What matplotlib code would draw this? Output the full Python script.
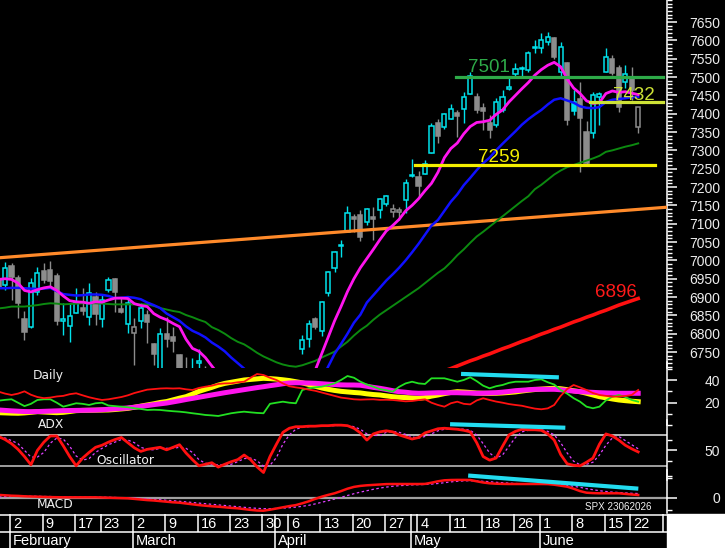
import matplotlib

matplotlib.use("Agg")
import matplotlib.pyplot as plt  # noqa: E402
from matplotlib.patches import Rectangle  # noqa: E402
from matplotlib.ticker import FixedLocator, FuncFormatter  # noqa: E402

plt.rcParams["font.family"] = ["Liberation Sans", "DejaVu Sans"]

W, H = 725, 548
RIGHT = 667              # pixel column of the price scale
X0, X1 = -2.79, 100.46   # visible window in trading days (0 = 2 Feb, 96 = 22 Jun)

# ---- data: one value per trading day, index -3 .. 96 ----
days = list(range(-3, 97))

opens = [6946, 6933, 6985, 6952, 6840, 6818, 6914, 6972, 6975, 6957,
         6836, 6821, 6856, 6870, 6846, 6900, 6840, 6919, 6949, 6867,
         6826, 6802, 6835, 6851, 6772, 6700, 6799, 6791, 6742, 6705,
         6670, 6720, 6705, 6690, 6665, 6630, 6670, 6620, 6585, 6630,
         6580, 6550, 6590, 6540, 6640, 6660, 6685, 6758, 6786, 6840,
         6807, 6911, 6979, 7039, 7077, 7117, 7124, 7105, 7117, 7137,
         7154, 7132, 7131, 7164, 7231, 7227, 7235, 7293, 7374, 7364,
         7385, 7402, 7413, 7453, 7445, 7416, 7374, 7369, 7410, 7468,
         7508, 7522, 7519, 7580, 7580, 7596, 7606, 7514, 7538, 7432,
         7440, 7350, 7347, 7445, 7514, 7549, 7525, 7486, 7497, 7364]
highs = [6966, 6996, 6993, 6960, 6862, 6952, 6982, 6993, 6998, 6966,
         6884, 6884, 6925, 6925, 6938, 6914, 6906, 6955, 6952, 6897,
         6900, 6843, 6884, 6865, 6775, 6816, 6845, 6818, 6745, 6737,
         6734, 6758, 6712, 6700, 6690, 6680, 6685, 6640, 6650, 6640,
         6600, 6610, 6600, 6640, 6690, 6698, 6702, 6796, 6837, 6846,
         6889, 6971, 7026, 7055, 7148, 7126, 7137, 7143, 7145, 7170,
         7178, 7154, 7145, 7222, 7276, 7243, 7274, 7374, 7385, 7402,
         7426, 7410, 7459, 7514, 7456, 7429, 7396, 7443, 7464, 7500,
         7538, 7530, 7570, 7601, 7620, 7623, 7608, 7595, 7541, 7464,
         7487, 7380, 7458, 7460, 7580, 7560, 7533, 7533, 7527, 7418]
lows = [6897, 6919, 6892, 6843, 6783, 6815, 6905, 6938, 6924, 6824,
        6797, 6777, 6856, 6851, 6824, 6824, 6818, 6914, 6859, 6856,
        6802, 6715, 6816, 6775, 6715, 6690, 6764, 6750, 6670, 6660,
        6650, 6700, 6660, 6640, 6620, 6610, 6600, 6570, 6580, 6560,
        6520, 6530, 6500, 6530, 6620, 6640, 6660, 6745, 6764, 6813,
        6794, 6903, 6968, 7009, 7077, 7077, 7053, 7097, 7055, 7116,
        7148, 7118, 7110, 7129, 7227, 7173, 7235, 7293, 7320, 7357,
        7385, 7336, 7374, 7453, 7402, 7356, 7334, 7364, 7405, 7464,
        7500, 7500, 7515, 7565, 7565, 7588, 7550, 7500, 7369, 7396,
        7241, 7258, 7335, 7368, 7514, 7505, 7405, 7470, 7437, 7347]
closes = [6925, 6979, 6955, 6884, 6805, 6938, 6966, 6946, 6944, 6835,
          6840, 6848, 6886, 6862, 6911, 6854, 6892, 6946, 6914, 6859,
          6884, 6818, 6870, 6832, 6745, 6799, 6786, 6780, 6690, 6680,
          6700, 6725, 6690, 6660, 6640, 6665, 6615, 6590, 6635, 6575,
          6545, 6595, 6520, 6630, 6680, 6690, 6695, 6783, 6826, 6818,
          6886, 6968, 7023, 7041, 7129, 7113, 7064, 7140, 7113, 7167,
          7176, 7140, 7138, 7211, 7233, 7203, 7263, 7366, 7339, 7399,
          7413, 7394, 7445, 7503, 7410, 7408, 7356, 7432, 7445, 7472,
          7522, 7525, 7565, 7582, 7601, 7609, 7555, 7582, 7383, 7407,
          7388, 7265, 7450, 7455, 7555, 7511, 7418, 7508, 7464, 7418]

ma_fast = [6948, 6950, 6948, 6938, 6918, 6914, 6920, 6925, 6928, 6918,
           6903, 6890, 6887, 6886, 6883, 6887, 6886, 6892, 6897, 6897,
           6896, 6882, 6877, 6874, 6855, 6845, 6838, 6828, 6819, 6785,
           6760, 6752, 6735, 6712, 6690, 6670, 6650, 6630, 6615, 6600,
           6585, 6575, 6565, 6570, 6590, 6620, 6650, 6670, 6685, 6700,
           6745, 6790, 6835, 6874, 6915, 6950, 6980, 7005, 7030, 7056,
           7080, 7095, 7112, 7135, 7150, 7168, 7190, 7210, 7240, 7280,
           7305, 7320, 7345, 7365, 7376, 7378, 7382, 7398, 7410, 7432,
           7450, 7468, 7485, 7505, 7520, 7532, 7540, 7528, 7495, 7470,
           7455, 7435, 7428, 7430, 7455, 7462, 7458, 7460, 7456, 7452]
ma_mid = [6924, 6924, 6925, 6925, 6924, 6923, 6922, 6923, 6925, 6916,
          6908, 6906, 6904, 6905, 6907, 6907, 6906, 6903, 6897, 6898,
          6900, 6898, 6894, 6885, 6878, 6870, 6855, 6845, 6835, 6820,
          6808, 6800, 6790, 6776, 6765, 6752, 6735, 6720, 6705, 6690,
          6675, 6662, 6650, 6642, 6635, 6630, 6628, 6630, 6640, 6655,
          6675, 6710, 6745, 6772, 6800, 6830, 6852, 6885, 6905, 6925,
          6945, 6962, 6980, 7000, 7022, 7045, 7070, 7095, 7110, 7135,
          7160, 7180, 7205, 7225, 7246, 7265, 7280, 7300, 7318, 7335,
          7352, 7370, 7385, 7398, 7410, 7425, 7438, 7442, 7436, 7430,
          7420, 7416, 7415, 7418, 7432, 7438, 7440, 7442, 7445, 7446]
ma_slow = [6869, 6871, 6874, 6874, 6874, 6876, 6878, 6881, 6883, 6882,
           6880, 6881, 6882, 6883, 6883, 6883, 6882, 6881, 6880, 6880,
           6880, 6880, 6880, 6880, 6876, 6870, 6866, 6862, 6859, 6851,
           6845, 6838, 6832, 6818, 6810, 6800, 6788, 6778, 6771, 6760,
           6748, 6738, 6730, 6722, 6716, 6712, 6710, 6714, 6720, 6726,
           6735, 6743, 6751, 6765, 6778, 6795, 6810, 6822, 6838, 6852,
           6864, 6876, 6888, 6900, 6912, 6924, 6938, 6952, 6966, 6978,
           6995, 7014, 7030, 7048, 7065, 7078, 7092, 7106, 7120, 7134,
           7148, 7162, 7175, 7194, 7206, 7220, 7234, 7245, 7254, 7260,
           7266, 7272, 7278, 7285, 7296, 7300, 7305, 7310, 7314, 7319]
red_days = list(range(64, 97))
ma_long = [6685, 6692, 6699, 6705, 6712, 6719, 6726, 6732, 6739, 6745,
           6752, 6759, 6765, 6772, 6779, 6785, 6792, 6799, 6805, 6812,
           6818, 6825, 6832, 6838, 6845, 6851, 6858, 6864, 6871, 6878,
           6884, 6890, 6896]

trend_days = [-3, 96]
trend_vals = [7007, 7139]

level_vals = [7501, 7259, 7432]
level_from = [67.8, 61.5, 88.5]
level_to = [99.8, 98.6, 99.8]

adx_plus = [21.8, 22.5, 23, 20, 17, 19, 22.4, 23, 23, 20,
            16.5, 18, 19.5, 19, 18, 19.5, 20, 17.5, 17, 16.5,
            16, 15.1, 14.5, 13.6, 13.8, 13.6, 13, 12.5, 12.1, 11.5,
            10.7, 10, 9.2, 8.8, 8.3, 9.5, 10.7, 11.5, 12.1, 11.5,
            11, 10.7, 19, 20, 20.9, 20, 19.5, 31.2, 32.7, 33.5,
            34.1, 35.5, 37, 40, 43.5, 42, 38.5, 36, 34.1, 32,
            31, 29.7, 34, 37, 38.5, 37, 36.5, 41.5, 41.5, 41.5,
            40, 38.5, 40, 42.4, 39, 35, 32.7, 34.5, 35.6, 37.5,
            38.5, 38.5, 38.5, 40, 40.6, 38, 36, 31.2, 28, 24,
            20.9, 16.5, 15.1, 16.5, 22, 25.3, 26.8, 25, 22.4, 20.9]
adx_minus = [29.7, 28, 26.8, 28, 30, 27, 25, 24, 24.5, 25.5,
             26, 27.5, 28.3, 26.5, 24.8, 23.5, 22.4, 23, 24, 25,
             26.5, 28.5, 30, 31.5, 32, 32.5, 32.7, 32.5, 32.7, 31.8,
             31.2, 33, 34.1, 35, 36.5, 37, 37.1, 38, 38.5, 42,
             45.3, 44.4, 42, 40, 37, 34.5, 33.5, 32.7, 31.5, 30.5,
             29, 27.5, 26, 24.5, 23.8, 23, 22.7, 22.9, 23, 22.5,
             22.6, 22.4, 21.8, 21.2, 21.5, 22.3, 23, 20, 18, 16.5,
             19.5, 20.9, 19, 18.5, 22, 23.9, 22.4, 21, 20, 18.8,
             18, 17.3, 16, 14.8, 14.2, 15, 18, 26, 32, 35.6,
             33.5, 31.2, 28.5, 26.8, 26, 25.3, 25.5, 25.9, 26.8, 31.2]
adx_line = [11.2, 11, 10.8, 10.7, 11, 11.5, 12.1, 11.8, 11.5, 11.2,
            11.5, 12.2, 13, 13.2, 13.3, 13.4, 13.5, 13.6, 14, 14.5,
            15, 16, 17, 18, 19, 20.2, 21, 22.5, 24, 25.3,
            27.5, 30, 31.8, 33.5, 35.5, 37, 38, 39, 40, 40.5,
            41, 41.5, 41.2, 40.8, 40.2, 39.5, 38.5, 37.5, 36, 34.5,
            33, 31.8, 30.8, 30, 29.5, 29, 28.6, 27.8, 27.2, 26.8,
            26, 25.3, 24.8, 24.5, 24.2, 23.9, 24.5, 25.8, 26.8, 28,
            29, 29.7, 29.4, 29, 28.5, 28.3, 28.2, 28.3, 28.6, 29,
            29.5, 30.3, 31, 31.6, 32, 32.4, 32.7, 32.3, 31.5, 30.5,
            29.7, 28.3, 26.8, 25.3, 24.3, 23.3, 22.4, 21.8, 21.3, 20.9]
adx_avg = [13.6, 13.2, 12.8, 12.5, 12.2, 12.1, 12.2, 12.4, 12.6, 12.8,
           13, 13.1, 13.2, 13.3, 13.4, 13.5, 13.8, 14.2, 14.6, 15,
           15.4, 16, 16.8, 17.5, 18.3, 19, 19.7, 20.7, 21.7, 22.8,
           23.8, 24.8, 25.8, 26.8, 27.8, 28.8, 29.7, 30.6, 31.5, 32.4,
           33.3, 34.1, 35, 35.8, 36.7, 37.4, 37.6, 37.5, 37.3, 37.1,
           36.7, 36.3, 36, 35.7, 35.6, 35.6, 35.4, 34.5, 33.5, 32.7,
           31.7, 30.6, 29.7, 29.2, 28.6, 28.3, 28.4, 28.6, 28.8, 28.8,
           28.8, 28.8, 28.6, 28.5, 28.3, 28.4, 28.6, 28.8, 29.3, 29.9,
           30.6, 31, 31.4, 31.8, 31.8, 31.8, 31.8, 31.4, 30.8, 30.2,
           29.7, 29.4, 29.1, 28.8, 28.6, 28.4, 28.3, 28.3, 28.3, 28.3]
adx_trend = ([68.9, 83.4], [45.3, 42.4])

osc_k = [77, 71, 63, 52, 38, 22, 50, 66, 78, 78,
         59, 38, 20, 35, 46, 56, 60, 66, 71, 75,
         65, 55, 48, 52, 54, 56, 51, 56, 61, 45,
         32, 20, 23, 26, 17.5, 23, 28, 32, 41, 32,
         18, 7, 38, 62, 85, 93, 96, 96, 97, 97,
         98, 98, 99, 99, 98, 93, 84, 70, 82, 86,
         88, 86, 80, 76, 72, 75, 84, 88, 92, 93,
         92, 91, 89, 86, 65, 38, 31, 35, 58, 80,
         87, 91, 90, 90, 89, 82, 70, 42, 24, 21,
         20, 27, 35, 62, 82, 78, 70, 60, 53, 47]
osc_d = [74, 74, 69, 63, 50, 37, 37, 46, 64, 74,
         72, 58, 39, 31, 34, 46, 54, 61, 66, 71,
         70, 65, 56, 52, 51, 54, 54, 54, 56, 54,
         46, 32, 25, 23, 22, 22, 23, 28, 34, 35,
         30, 19, 21, 36, 62, 80, 91, 95, 96, 97,
         97, 98, 98, 99, 98, 96, 91, 82, 79, 79,
         85, 87, 85, 81, 76, 74, 77, 82, 88, 91,
         92, 92, 91, 89, 80, 63, 45, 35, 41, 58,
         75, 86, 89, 90, 90, 87, 80, 65, 45, 29,
         22, 23, 27, 41, 60, 74, 77, 69, 61, 53]
osc_trend = ([67.2, 84.4], [100.7, 94.1])

macd = [14, 12, 10, 9, 7, 6, 5, 4, 3, 2.5,
        2, 2, 2, 2, 2, 2, 1, 0, -1, -2,
        -3, -6, -9, -12, -14, -17, -20, -23, -25, -29,
        -33, -37, -40, -43, -45, -48, -51, -53, -57, -61,
        -64, -65, -60, -54, -48, -42, -37, -28, -18, -6,
        5, 14, 22, 33, 45, 54, 59, 62, 64, 66,
        68, 68.5, 68.5, 68.5, 68.5, 68.5, 69, 75, 82, 87,
        88.5, 89, 89, 88.5, 82, 76, 72, 70, 69, 68.5,
        68.5, 68.5, 68.5, 68.5, 68.5, 68, 65, 60, 55, 45,
        33, 25, 23, 22, 22, 22, 22, 19, 16, 13.5]
macd_signal = [4, 5, 6, 7, 7, 7, 7, 6, 6, 5,
               5, 4, 4, 3, 3, 3, 2, 2, 1, 0,
               -1, -2, -4, -6, -8, -10, -13, -15, -18, -21,
               -24, -27, -30, -33, -36, -39, -42, -45, -48, -51,
               -53, -55, -55, -54, -52, -50, -47, -43, -38, -31,
               -23, -15, -7, 2, 11, 20, 28, 35, 42, 48,
               53, 57, 60, 62, 64, 65, 66, 68, 71, 75,
               79, 82, 84, 85, 84, 82, 80, 77, 75, 73,
               71, 70, 69, 69, 68.5, 68, 67, 65, 62, 57,
               52, 45, 40, 35, 31, 28, 26, 24, 22, 21]
macd_trend = ([70.0, 95.7], [110, 46])

week_idx = [0, 5, 10, 14, 19, 24, 29, 34, 39, 43, 48, 53, 58, 63, 68, 73, 78,
            82, 87, 92, 96, 101]
week_lbl = ["2", "9", "17", "23", "2", "9", "16", "23", "30", "6", "13", "20",
            "27", "4", "11", "18", "26", "1", "8", "15", "22", "29"]
month_idx = [0, 19, 41, 62, 82]
month_lbl = ["February", "March", "April", "May", "June"]

# ---- figure ----
fig = plt.figure(figsize=(W / 100, H / 100), dpi=100, facecolor="black")


def panel(top, bottom, ylim, major, minor):
    ax = fig.add_axes([0, 1 - bottom / H, RIGHT / W, (bottom - top) / H])
    ax.set_facecolor("none")
    ax.set_xlim(X0, X1)
    ax.set_ylim(*ylim)
    for side in ("left", "top", "bottom"):
        ax.spines[side].set_visible(False)
    ax.spines["right"].set_color("white")
    ax.spines["right"].set_linewidth(1.1)
    ax.set_xticks([])
    ax.yaxis.tick_right()
    ax.yaxis.set_major_locator(FixedLocator(major))
    ax.yaxis.set_minor_locator(FixedLocator(minor))
    ax.yaxis.set_major_formatter(FuncFormatter(lambda v, _: f"{v:.0f}"))
    ax.tick_params(axis="y", which="major", length=7.2, width=1.1, color="white",
                   labelcolor="#ececec", labelsize=10, pad=31)
    ax.tick_params(axis="y", which="minor", length=3.6, width=1.0, color="white")
    for lbl in ax.get_yticklabels():
        lbl.set_horizontalalignment("right")
    return ax


ax_p = panel(0, 368, (6706.5, 7710), range(6750, 7651, 50), range(6710, 7711, 10))
ax_adx = panel(362, 425.4, (0, 55.86), [20, 40], [10, 30, 50])
ax_osc = panel(420, 480, (-7.54, 109.0), [50], [0, 30, 70, 100])
ax_macd = panel(470, 513, (-76.5, 138.5), [0], [-60, 100])

# candles: hollow when close > open, cyan when close above previous close
up_col, down_col = "#00e2ec", "#8c8c8c"
edge, face, prev = [], [], None
for o, c in zip(opens, closes):
    col = up_col if prev is not None and c > prev else down_col
    edge.append(col)
    face.append("black" if c > o else col)
    prev = c
bottoms = [min(o, c) for o, c in zip(opens, closes)]
heights = [max(abs(c - o), 1.5) for o, c in zip(opens, closes)]
ax_p.vlines(days, lows, highs, colors=edge, lw=1.0, zorder=2)
ax_p.bar(days, heights, width=0.64, bottom=bottoms, color=face, edgecolor=edge,
         linewidth=1.1, zorder=2.5)

ax_p.axline((trend_days[0], trend_vals[0]), (trend_days[1], trend_vals[1]),
            color="#ff8a2a", lw=2.3, zorder=3)
ax_p.plot(days, ma_slow, color="#0c8a10", lw=1.4, zorder=3)
ax_p.plot(days, ma_mid, color="#1010ff", lw=1.8, zorder=3)
ax_p.plot(days, ma_fast, color="#ff14ee", lw=2.0, zorder=3.2)
ax_p.plot(red_days, ma_long, color="#ff1010", lw=2.6, zorder=3)

level_cols = ["#2eaa48", "#f4ee00", "#cde236"]
label_x = [69.7, 71.2, 92.1]
label_dy = [13, 9, 5]
for v, a, b, col, lx, dy in zip(level_vals, level_from, level_to, level_cols,
                                label_x, label_dy):
    ax_p.plot([a, b], [v, v], color=col, lw=2.3, zorder=4)
    ax_p.text(lx, v + dy, f"{v}", color=col, fontsize=13.5,
              va="baseline", ha="left", zorder=5)
ax_p.text(89.3, ma_long[-1] + 4, f"{ma_long[-1]}", color="#ff1a1a", fontsize=13.5,
          va="baseline", ha="left", zorder=5)

# ADX / DMI
ax_adx.plot(days, adx_line, color="#ffff00", lw=3.6, zorder=2)
ax_adx.plot(days, adx_avg, color="#ff14ee", lw=3.6, zorder=2.1)
ax_adx.plot(days, adx_plus, color="#22e022", lw=1.3, zorder=3)
ax_adx.plot(days, adx_minus, color="#ff1010", lw=1.3, zorder=3)
ax_adx.plot(*adx_trend, color="#22dcf0", lw=3.0, zorder=4)

# stochastic oscillator
ax_osc.axhline(80, color="#e6e6e6", lw=1.1, zorder=1)
ax_osc.axhline(20, color="#c8c8c8", lw=1.1, zorder=1)
ax_osc.plot(days, osc_d, color="#e040ff", lw=0.9, ls=(0, (2, 2)), zorder=2)
ax_osc.plot(days, osc_k, color="#ff1010", lw=2.0, zorder=3)
ax_osc.plot(*osc_trend, color="#22dcf0", lw=3.0, zorder=4)

# MACD
ax_macd.axhline(0, color="#a0a0a0", lw=1.6, zorder=1)
ax_macd.plot(days, macd_signal, color="#e040ff", lw=0.9, ls=(0, (2, 2)), zorder=2)
ax_macd.plot(days, macd, color="#ff1010", lw=1.8, zorder=3)
ax_macd.plot(*macd_trend, color="#22dcf0", lw=3.0, zorder=4)

lab = dict(color="#f0f0f0", fontsize=8.8, family="DejaVu Sans", va="center", ha="left")
fig.text(33 / W, 1 - 376 / H, "Daily", **lab)
fig.text(38 / W, 1 - 424 / H, "ADX", **lab)
fig.text(96 / W, 1 - 460 / H, "Oscillator", **lab)
fig.text(37 / W, 1 - 505 / H, "MACD", **lab)
fig.text(585 / W, 1 - 507 / H, "SPX 23062026", color="#f0f0f0", fontsize=7.1,
         va="center", ha="left")

# date strip
ax_d = fig.add_axes([0, 0, RIGHT / W, 34 / H])
ax_d.set_facecolor("black")
ax_d.set_xlim(X0, X1)
ax_d.set_ylim(34, 0)
ax_d.axis("off")
ax_d.axhline(0.6, color="white", lw=1.1)
ax_d.axhline(17.5, color="white", lw=1.1)
seps = sorted(set(i - 1.2 for i in week_idx + month_idx))
ax_d.vlines(seps, 0, 17.5, colors="white", lw=1.1)
ax_d.vlines([i - 1.2 for i in month_idx], 17.5, 34, colors="white", lw=1.1)
for i, t in zip(week_idx, week_lbl):
    ax_d.text(i - 0.73, 14, t, color="white", fontsize=10.5, ha="left",
              va="baseline", clip_on=True)
for i, t in zip(month_idx, month_lbl):
    ax_d.text(i - 0.75, 31, t, color="white", fontsize=10.5, ha="left",
              va="baseline", clip_on=True)

fig.patches.append(Rectangle((RIGHT / W, 0), 1 - RIGHT / W, 34 / H,
                             transform=fig.transFigure, color="white", zorder=0))

fig.savefig("out.png", dpi=100, facecolor="black")
